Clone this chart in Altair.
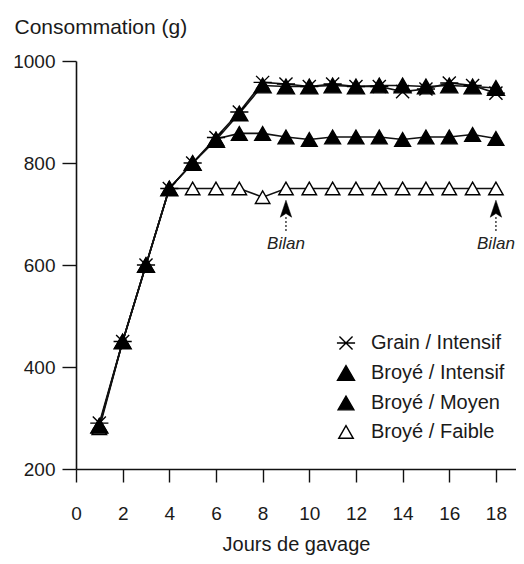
import altair as alt
import pandas as pd

days = [1, 2, 3, 4, 5, 6, 7, 8, 9, 10, 11, 12, 13, 14, 15, 16, 17, 18]
series_names = ["Grain / Intensif", "Broyé / Intensif", "Broyé / Moyen", "Broyé / Faible"]

grain_intensif = [290, 450, 600, 750, 800, 850, 900, 958, 955, 950, 955, 950, 950, 940, 945, 957, 952, 937]
broye_intensif = [285, 450, 600, 750, 800, 845, 897, 952, 950, 950, 952, 950, 952, 952, 950, 952, 950, 947]
broye_moyen = [285, 450, 600, 750, 800, 847, 858, 858, 851, 846, 851, 851, 851, 846, 851, 851, 856, 848]
broye_faible = [280, 450, 600, 750, 750, 750, 750, 733, 750, 750, 750, 750, 750, 750, 750, 750, 750, 750]

bilan_x = [9, 18]
bilan_label = ["Bilan", "Bilan"]
arrow_head_y = [709, 709]
shaft_top_y = [694, 694]
shaft_bottom_y = [665, 665]
label_y = [642, 642]

x_ticks = [0, 2, 4, 6, 8, 10, 12, 14, 16, 18]
y_ticks = [200, 400, 600, 800, 1000]

# draw order: open triangles at the bottom, stars on top
draw_order = [
    ("Broyé / Faible", broye_faible),
    ("Broyé / Moyen", broye_moyen),
    ("Broyé / Intensif", broye_intensif),
    ("Grain / Intensif", grain_intensif),
]
rows = []
for k, (name, vals) in enumerate(draw_order):
    for d, v in zip(days, vals):
        rows.append({"jour": d, "conso": v, "series": name, "z": k})
df = pd.DataFrame(rows)

ann = pd.DataFrame({
    "x": bilan_x, "label": bilan_label, "head": arrow_head_y,
    "top": shaft_top_y, "bottom": shaft_bottom_y, "ly": label_y,
})

FONT = "Liberation Sans"
star = "M-1,0L1,0M-0.72,-0.72L0.72,0.72M-0.72,0.72L0.72,-0.72"
arrow = "M0,-1L0.62,0.85L0,0.45L-0.62,0.85Z"

x_enc = alt.X("jour:Q", scale=alt.Scale(domain=[0, 18.86], nice=False, zero=False),
              axis=alt.Axis(values=x_ticks, title="Jours de gavage", tickSize=13,
                            labelPadding=22, grid=False, format="d", labelFlush=False,
                            titleBaseline="alphabetic", titleY=81, titleFontSize=20))
y_enc = alt.Y("conso:Q", scale=alt.Scale(domain=[200, 1000], nice=False, zero=False),
              axis=alt.Axis(values=y_ticks, title="Consommation (g)", tickSize=14,
                            labelPadding=7, grid=False, titleAngle=0, titleAlign="left",
                            titleBaseline="alphabetic", titleX=-62, titleY=-28,
                            titleFontSize=21, format="d"))

leg = alt.Legend(title=None, orient="none", legendX=260, legendY=272, padding=0,
                 labelFontSize=20, labelFont=FONT, labelColor="#1a1a1a",
                 symbolStrokeWidth=1.4, rowPadding=9,
                 labelOffset=15, labelLimit=300)

lines = alt.Chart(df).mark_line(color="#111", strokeWidth=1.6).encode(
    x=x_enc, y=y_enc, detail="series:N", order="jour:Q")

points = alt.Chart(df).mark_point(filled=True, strokeWidth=1.4, opacity=1).encode(
    x="jour:Q", y="conso:Q",
    shape=alt.Shape("series:N", scale=alt.Scale(domain=series_names,
                    range=[star, "triangle-up", "triangle-up", "triangle-up"]), legend=leg),
    fill=alt.Fill("series:N", scale=alt.Scale(domain=series_names,
                  range=["black", "black", "black", "white"]), legend=leg),
    stroke=alt.Stroke("series:N", scale=alt.Scale(domain=series_names,
                      range=["black", "black", "black", "black"]), legend=leg),
    size=alt.Size("series:N", scale=alt.Scale(domain=series_names,
                  range=[330, 210, 210, 210]), legend=leg),
    order="z:Q",
)

heads = alt.Chart(ann).mark_point(filled=True, fill="black", stroke="black", strokeWidth=0.5,
                                  opacity=1).encode(
    x="x:Q", y="head:Q", shape=alt.value(arrow), size=alt.value(340))

shafts = alt.Chart(ann).mark_rule(color="#111", strokeWidth=1.2, strokeDash=[2, 2]).encode(
    x="x:Q", y="top:Q", y2="bottom:Q")

labels = alt.Chart(ann).mark_text(font=FONT, fontSize=17, fontStyle="italic", color="#222",
                                  baseline="middle").encode(
    x="x:Q", y="ly:Q", text="label:N")

chart = alt.layer(lines, points, heads, shafts, labels).properties(
    width=440, height=408,
    autosize=alt.AutoSizeParams(type="none"),
    padding={"left": 68, "top": 53, "right": 0, "bottom": 87},
).configure_view(stroke=None).configure_axis(
    domainColor="#111", tickColor="#111", domainWidth=1.6, tickWidth=1.4,
    labelFont=FONT, labelFontSize=19, labelColor="#1a1a1a",
    titleFont=FONT, titleFontSize=21, titleFontWeight="normal", titleColor="#1a1a1a",
)

chart.save("out.html", embed_options={"renderer": "svg", "actions": False})
